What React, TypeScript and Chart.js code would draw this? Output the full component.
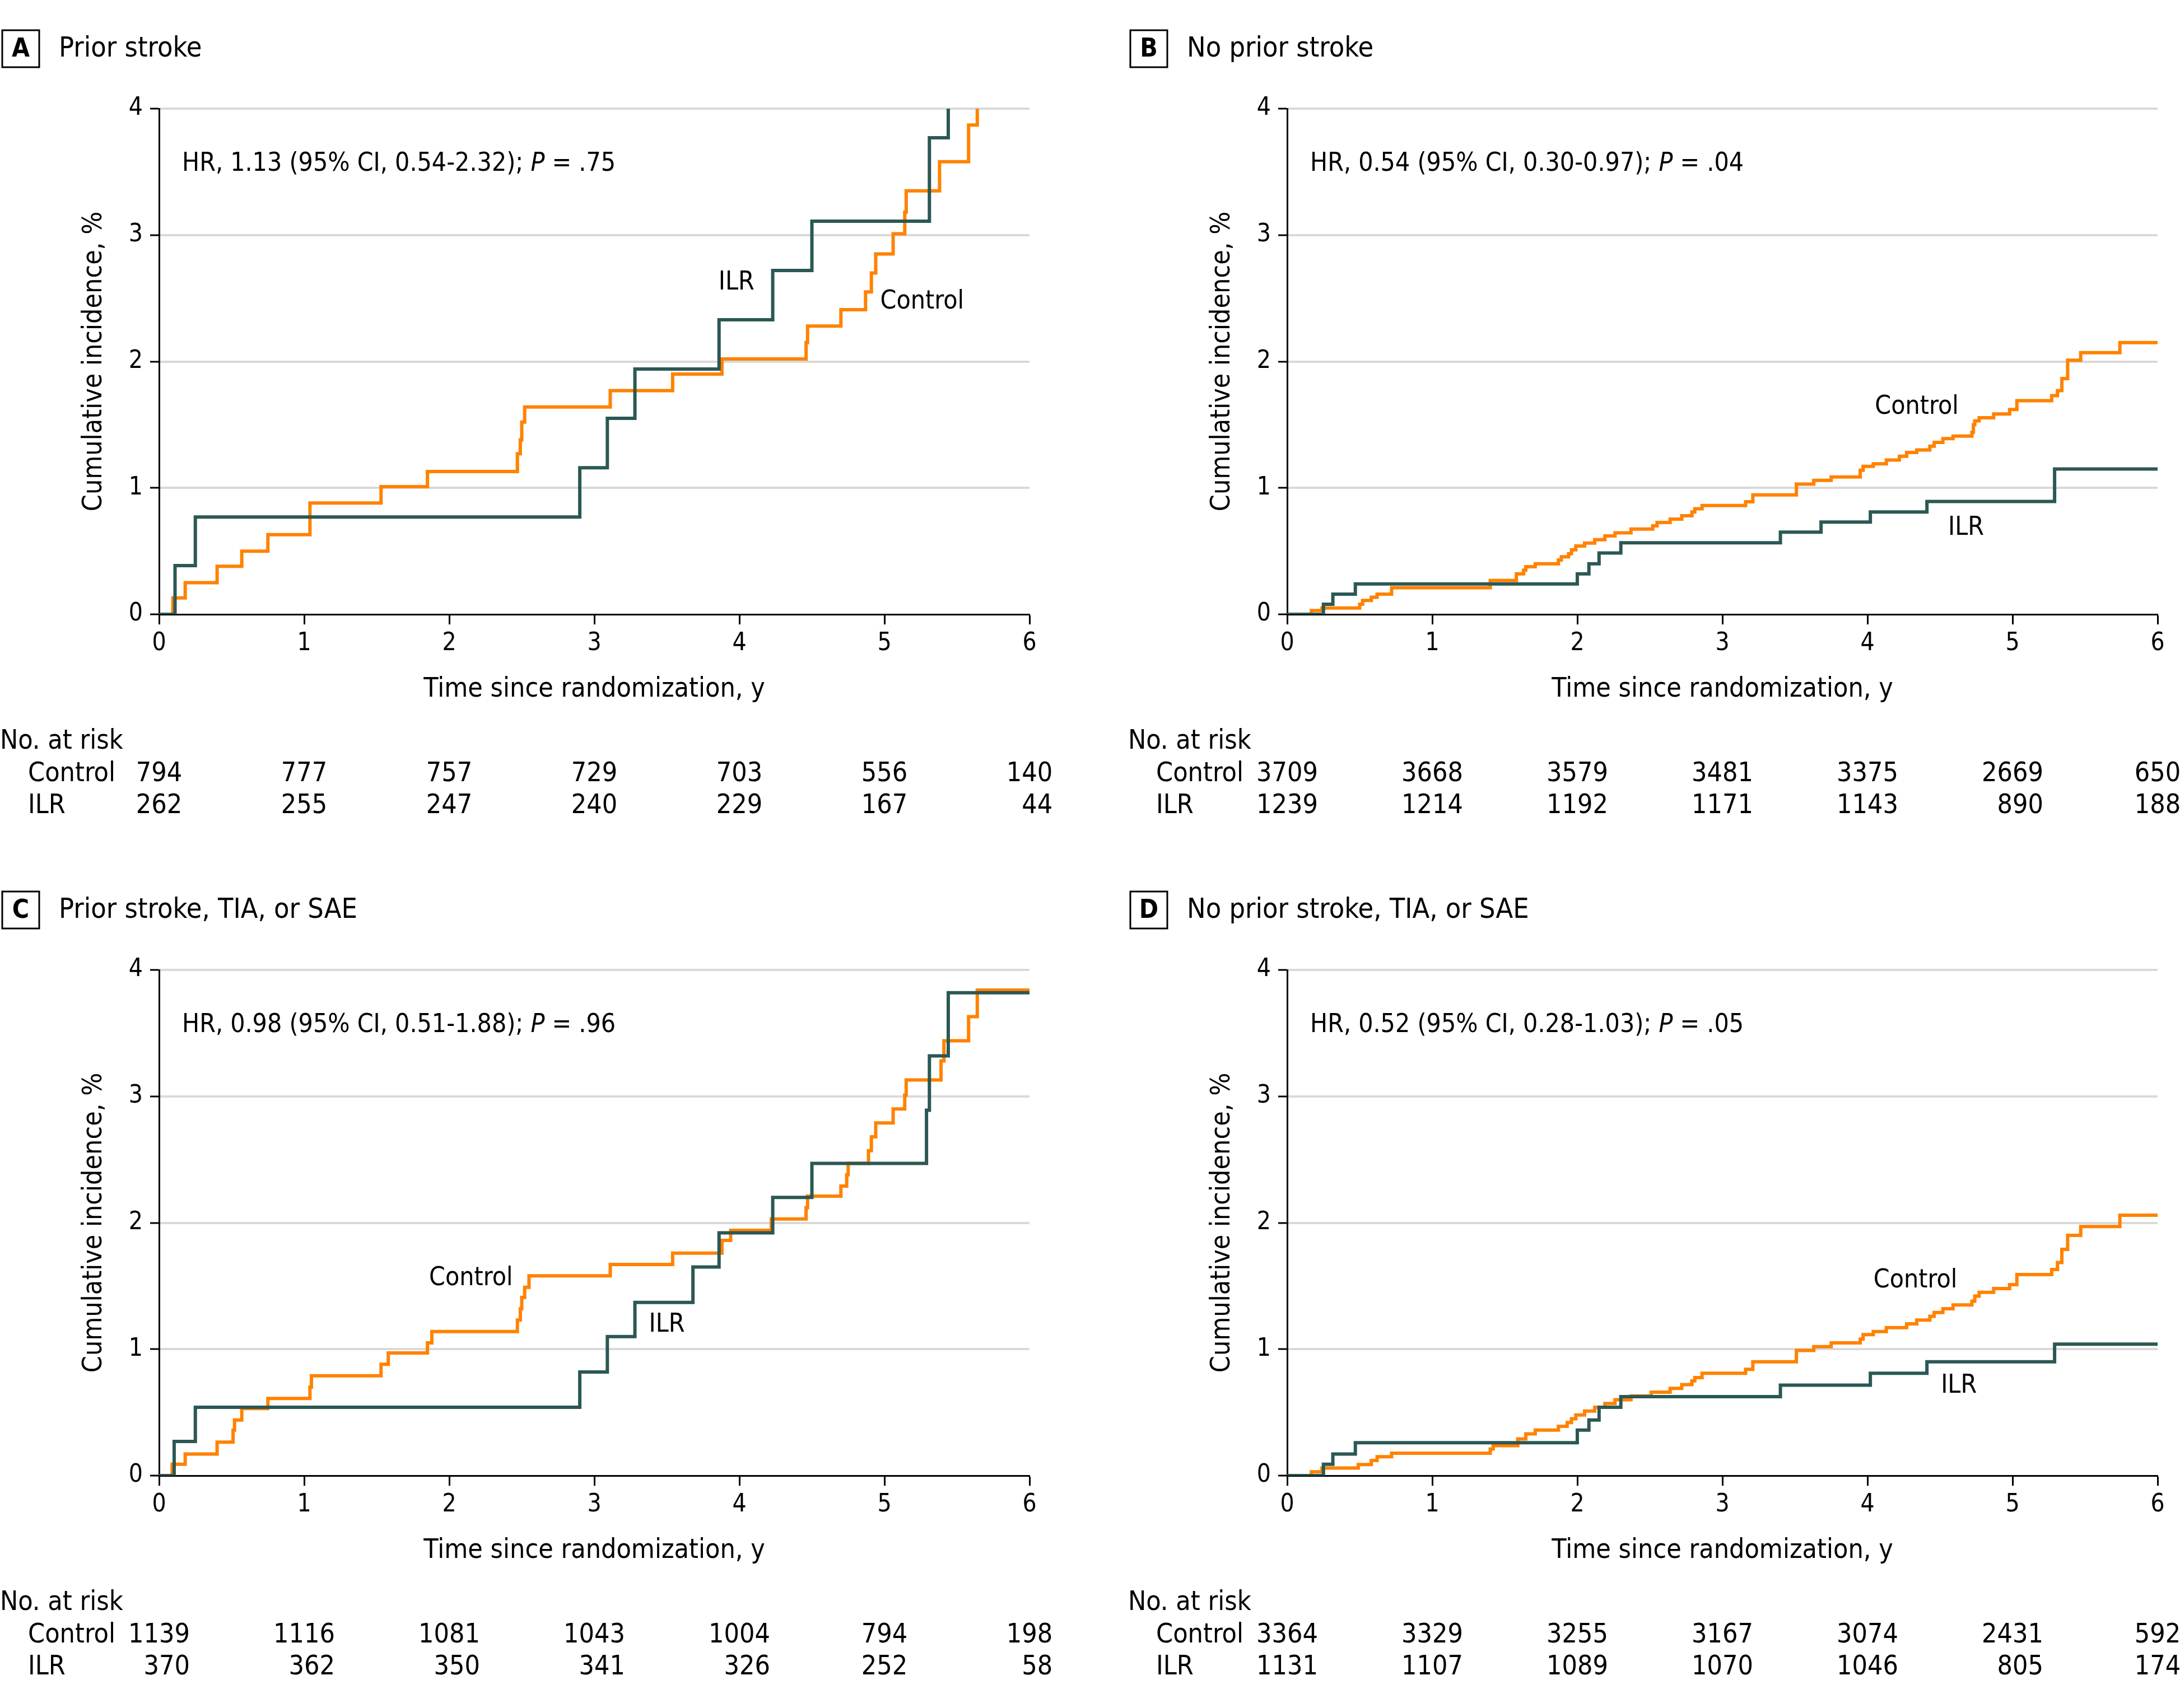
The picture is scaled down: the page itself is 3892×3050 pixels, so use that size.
import React, { useEffect, useRef } from "react";
import { Chart, registerables } from "chart.js";
Chart.register(...registerables);

const FONT = "'DejaVu Sans Condensed', 'Liberation Sans Narrow', 'DejaVu Sans', sans-serif";
const ORANGE = "#ff8200";
const TEAL = "#2b5854";
const GRID = "#d9d9d9";

const YEAR_TICKS = [0, 1, 2, 3, 4, 5, 6];
const PCT_TICKS = [0, 1, 2, 3, 4];

// ---------- Panel A: Prior stroke ----------
const A_ILR_T = [0, 0.11, 0.25, 2.9, 3.09, 3.28, 3.86, 4.23, 4.5, 5.31, 5.44];
const A_ILR_V = [0, 0.385, 0.77, 1.16, 1.55, 1.94, 2.33, 2.72, 3.11, 3.77, 4.0];
const A_CTRL_T = [0, 0.095, 0.18, 0.4, 0.57, 0.75, 1.04, 1.53, 1.85, 2.47, 2.49, 2.5, 2.52, 3.11, 3.54, 3.88, 4.46, 4.47, 4.7, 4.87, 4.91, 4.94, 5.06, 5.14, 5.15, 5.38, 5.58, 5.64];
const A_CTRL_V = [0, 0.13, 0.25, 0.38, 0.5, 0.63, 0.88, 1.01, 1.13, 1.27, 1.38, 1.52, 1.64, 1.77, 1.9, 2.02, 2.15, 2.28, 2.41, 2.55, 2.7, 2.85, 3.01, 3.18, 3.35, 3.58, 3.87, 4.0];
const A_RISK_CTRL = ["794", "777", "757", "729", "703", "556", "140"];
const A_RISK_ILR = ["262", "255", "247", "240", "229", "167", "44"];

// ---------- Panel B: No prior stroke ----------
const B_ILR_T = [0, 0.25, 0.315, 0.47, 2.0, 2.08, 2.15, 2.3, 3.4, 3.68, 4.02, 4.41, 5.29, 6];
const B_ILR_V = [0, 0.08, 0.16, 0.24, 0.32, 0.4, 0.485, 0.566, 0.65, 0.73, 0.81, 0.893, 1.15, 1.15];
const B_CTRL_T = [0, 0.167, 0.24, 0.5, 0.52, 0.58, 0.62, 0.72, 1.4, 1.58, 1.63, 1.645, 1.71, 1.87, 1.89, 1.94, 1.96, 1.99, 2.05, 2.12, 2.19, 2.26, 2.37, 2.52, 2.55, 2.64, 2.72, 2.79, 2.81, 2.86, 3.16, 3.21, 3.51, 3.63, 3.75, 3.95, 3.97, 4.04, 4.13, 4.22, 4.27, 4.34, 4.43, 4.46, 4.52, 4.59, 4.72, 4.73, 4.74, 4.77, 4.87, 4.98, 5.03, 5.27, 5.31, 5.34, 5.38, 5.47, 5.74, 6];
const B_CTRL_V = [0, 0.03, 0.05, 0.08, 0.11, 0.135, 0.16, 0.21, 0.268, 0.32, 0.35, 0.377, 0.4, 0.43, 0.455, 0.48, 0.51, 0.54, 0.564, 0.59, 0.62, 0.645, 0.674, 0.7, 0.727, 0.753, 0.78, 0.81, 0.835, 0.86, 0.89, 0.945, 1.03, 1.06, 1.086, 1.14, 1.17, 1.19, 1.22, 1.25, 1.28, 1.3, 1.33, 1.36, 1.39, 1.41, 1.44, 1.5, 1.53, 1.555, 1.585, 1.62, 1.69, 1.73, 1.77, 1.865, 2.01, 2.07, 2.15, 2.15];
const B_RISK_CTRL = ["3709", "3668", "3579", "3481", "3375", "2669", "650"];
const B_RISK_ILR = ["1239", "1214", "1192", "1171", "1143", "890", "188"];

// ---------- Panel C: Prior stroke, TIA, or SAE ----------
const C_ILR_T = [0, 0.104, 0.25, 2.9, 3.09, 3.28, 3.68, 3.86, 4.23, 4.5, 5.29, 5.31, 5.44, 6];
const C_ILR_V = [0, 0.27, 0.54, 0.82, 1.1, 1.37, 1.65, 1.92, 2.2, 2.47, 2.89, 3.32, 3.82, 3.82];
const C_CTRL_T = [0, 0.09, 0.18, 0.4, 0.51, 0.52, 0.57, 0.75, 1.04, 1.05, 1.53, 1.58, 1.85, 1.88, 2.47, 2.49, 2.5, 2.52, 2.55, 3.11, 3.54, 3.88, 3.94, 4.22, 4.46, 4.47, 4.7, 4.74, 4.75, 4.89, 4.91, 4.94, 5.06, 5.14, 5.15, 5.39, 5.41, 5.58, 5.64, 6];
const C_CTRL_V = [0, 0.09, 0.17, 0.265, 0.36, 0.44, 0.53, 0.61, 0.7, 0.79, 0.88, 0.97, 1.05, 1.14, 1.23, 1.32, 1.41, 1.49, 1.58, 1.67, 1.76, 1.86, 1.94, 2.03, 2.12, 2.21, 2.29, 2.38, 2.47, 2.57, 2.68, 2.79, 2.9, 3.01, 3.13, 3.28, 3.44, 3.63, 3.84, 3.84];
const C_RISK_CTRL = ["1139", "1116", "1081", "1043", "1004", "794", "198"];
const C_RISK_ILR = ["370", "362", "350", "341", "326", "252", "58"];

// ---------- Panel D: No prior stroke, TIA, or SAE ----------
const D_ILR_T = [0, 0.25, 0.315, 0.47, 2.0, 2.08, 2.15, 2.3, 3.4, 4.02, 4.41, 5.29, 6];
const D_ILR_V = [0, 0.09, 0.17, 0.26, 0.36, 0.44, 0.54, 0.625, 0.715, 0.81, 0.9, 1.04, 1.04];
const D_CTRL_T = [0, 0.167, 0.24, 0.49, 0.58, 0.62, 0.72, 1.4, 1.42, 1.59, 1.645, 1.71, 1.87, 1.93, 1.96, 1.99, 2.05, 2.12, 2.19, 2.26, 2.37, 2.51, 2.64, 2.72, 2.79, 2.81, 2.86, 3.16, 3.21, 3.51, 3.63, 3.75, 3.95, 3.97, 4.04, 4.13, 4.27, 4.34, 4.43, 4.46, 4.52, 4.59, 4.72, 4.74, 4.77, 4.87, 4.98, 5.03, 5.27, 5.31, 5.34, 5.38, 5.47, 5.74, 6];
const D_CTRL_V = [0, 0.03, 0.06, 0.087, 0.12, 0.15, 0.177, 0.21, 0.237, 0.29, 0.33, 0.36, 0.39, 0.42, 0.45, 0.48, 0.51, 0.54, 0.57, 0.6, 0.63, 0.66, 0.69, 0.72, 0.75, 0.775, 0.81, 0.84, 0.9, 0.99, 1.02, 1.05, 1.08, 1.115, 1.14, 1.17, 1.2, 1.23, 1.26, 1.29, 1.32, 1.35, 1.38, 1.42, 1.45, 1.48, 1.51, 1.59, 1.63, 1.685, 1.79, 1.9, 1.97, 2.06, 2.06];
const D_RISK_CTRL = ["3364", "3329", "3255", "3167", "3074", "2431", "592"];
const D_RISK_ILR = ["1131", "1107", "1089", "1070", "1046", "805", "174"];

type PanelCfg = {
  letter: string;
  title: string;
  hr: [string, string, string];
  left: number;
  top: number;
  ilrT: number[];
  ilrV: number[];
  ctrlT: number[];
  ctrlV: number[];
  riskCtrl: string[];
  riskIlr: string[];
  ilrLabel: [number, number];
  ctrlLabel: [number, number];
};

const PANELS: PanelCfg[] = [
  { letter: "A", title: "Prior stroke", hr: ["HR, 1.13 (95% CI, 0.54-2.32); ", "P", " = .75"], left: 0, top: 0,
    ilrT: A_ILR_T, ilrV: A_ILR_V, ctrlT: A_CTRL_T, ctrlV: A_CTRL_V, riskCtrl: A_RISK_CTRL, riskIlr: A_RISK_ILR,
    ilrLabel: [3.98, 2.62], ctrlLabel: [5.26, 2.47] },
  { letter: "B", title: "No prior stroke", hr: ["HR, 0.54 (95% CI, 0.30-0.97); ", "P", " = .04"], left: 2014, top: 0,
    ilrT: B_ILR_T, ilrV: B_ILR_V, ctrlT: B_CTRL_T, ctrlV: B_CTRL_V, riskCtrl: B_RISK_CTRL, riskIlr: B_RISK_ILR,
    ilrLabel: [4.68, 0.68], ctrlLabel: [4.34, 1.64] },
  { letter: "C", title: "Prior stroke, TIA, or SAE", hr: ["HR, 0.98 (95% CI, 0.51-1.88); ", "P", " = .96"], left: 0, top: 1538,
    ilrT: C_ILR_T, ilrV: C_ILR_V, ctrlT: C_CTRL_T, ctrlV: C_CTRL_V, riskCtrl: C_RISK_CTRL, riskIlr: C_RISK_ILR,
    ilrLabel: [3.5, 1.19], ctrlLabel: [2.15, 1.56] },
  { letter: "D", title: "No prior stroke, TIA, or SAE", hr: ["HR, 0.52 (95% CI, 0.28-1.03); ", "P", " = .05"], left: 2014, top: 1538,
    ilrT: D_ILR_T, ilrV: D_ILR_V, ctrlT: D_CTRL_T, ctrlV: D_CTRL_V, riskCtrl: D_RISK_CTRL, riskIlr: D_RISK_ILR,
    ilrLabel: [4.63, 0.71], ctrlLabel: [4.33, 1.54] },
];

const W = 1878;
const H = 1500;

function pts(t: number[], v: number[]) {
  return t.map((x, i) => ({ x, y: v[i] }));
}

function Panel({ cfg }: { cfg: PanelCfg }) {
  const ref = useRef<HTMLCanvasElement | null>(null);
  useEffect(() => {
    if (!ref.current) return;
    const extras = {
      id: "extras",
      afterDraw(chart: any) {
        const ctx = chart.ctx as CanvasRenderingContext2D;
        const area = chart.chartArea;
        const xs = chart.scales.x;
        const ys = chart.scales.y;
        ctx.save();
        ctx.fillStyle = "#000";
        ctx.strokeStyle = "#000";
        // header
        ctx.lineWidth = 3;
        ctx.strokeRect(4, 54, 66, 66);
        ctx.textBaseline = "middle";
        ctx.textAlign = "center";
        ctx.font = `bold 46px ${FONT}`;
        ctx.fillText(cfg.letter, 37, 89);
        ctx.textAlign = "left";
        ctx.font = `50px ${FONT}`;
        ctx.fillText(cfg.title, 105, 88);
        // HR text
        let hx = area.left + 41;
        const hy = area.top + 99;
        ctx.font = `46px ${FONT}`;
        ctx.fillText(cfg.hr[0], hx, hy);
        hx += ctx.measureText(cfg.hr[0]).width;
        ctx.font = `italic 46px ${FONT}`;
        ctx.fillText(cfg.hr[1], hx, hy);
        hx += ctx.measureText(cfg.hr[1]).width;
        ctx.font = `46px ${FONT}`;
        ctx.fillText(cfg.hr[2], hx, hy);
        // curve labels
        ctx.textAlign = "center";
        ctx.fillText("ILR", xs.getPixelForValue(cfg.ilrLabel[0]), ys.getPixelForValue(cfg.ilrLabel[1]));
        ctx.fillText("Control", xs.getPixelForValue(cfg.ctrlLabel[0]), ys.getPixelForValue(cfg.ctrlLabel[1]));
        // risk table
        ctx.font = `48px ${FONT}`;
        ctx.textAlign = "left";
        const r0 = area.bottom + 228;
        const r1 = area.bottom + 286;
        const r2 = area.bottom + 343;
        ctx.fillText("No. at risk", 0, r0);
        ctx.fillText("Control", 50, r1);
        ctx.fillText("ILR", 50, r2);
        ctx.textAlign = "right";
        YEAR_TICKS.forEach((yr, i) => {
          const colW = Math.max(ctx.measureText(cfg.riskCtrl[i]).width, ctx.measureText(cfg.riskIlr[i]).width);
          const px = xs.getPixelForValue(yr) + colW / 2;
          ctx.fillText(cfg.riskCtrl[i], px, r1);
          ctx.fillText(cfg.riskIlr[i], px, r2);
        });
        ctx.restore();
      },
    };
    const chart = new Chart(ref.current, {
      type: "line",
      data: {
        datasets: [
          { label: "ILR", data: pts(cfg.ilrT, cfg.ilrV), borderColor: TEAL, backgroundColor: TEAL, borderWidth: 6,
            stepped: true, pointRadius: 0, fill: false, tension: 0 } as any,
          { label: "Control", data: pts(cfg.ctrlT, cfg.ctrlV), borderColor: ORANGE, backgroundColor: ORANGE, borderWidth: 6,
            stepped: true, pointRadius: 0, fill: false, tension: 0 } as any,
        ],
      },
      options: {
        animation: false,
        responsive: true,
        maintainAspectRatio: false,
        events: [],
        layout: { padding: { left: 0, top: 194, right: 40, bottom: 240 } },
        plugins: { legend: { display: false }, tooltip: { enabled: false }, title: { display: false } },
        scales: {
          x: {
            type: "linear",
            min: 0,
            max: 6,
            afterBuildTicks: (s: any) => { s.ticks = YEAR_TICKS.map((v) => ({ value: v })); },
            afterFit: (s: any) => { s.height = 163; },
            ticks: { font: { family: FONT, size: 44 }, color: "#000", padding: 8, maxRotation: 0, autoSkip: false },
            grid: { drawOnChartArea: false, drawTicks: true, tickLength: 18, tickWidth: 3, tickColor: "#000" },
            border: { display: true, color: "#000", width: 3 },
            title: { display: true, text: "Time since randomization, y", font: { family: FONT, size: 48 }, color: "#000", padding: 0 },
          },
          y: {
            type: "linear",
            min: 0,
            max: 4,
            afterBuildTicks: (s: any) => { s.ticks = PCT_TICKS.map((v) => ({ value: v })); },
            afterFit: (s: any) => { s.width = 284; },
            ticks: { font: { family: FONT, size: 44 }, color: "#000", padding: 13 },
            grid: {
              color: (c: any) => (c.tick && c.tick.value === 0 ? "rgba(0,0,0,0)" : GRID),
              lineWidth: 4,
              drawTicks: true,
              tickLength: 16,
              tickWidth: 3,
              tickColor: "#000",
            },
            border: { display: true, color: "#000", width: 3 },
            title: { display: true, text: "Cumulative incidence, %", font: { family: FONT, size: 48 }, color: "#000", padding: { top: 140, bottom: 0 } },
          },
        },
      } as any,
      plugins: [extras],
    });
    return () => chart.destroy();
  }, [cfg]);
  return (
    <div style={{ position: "absolute", left: cfg.left, top: cfg.top, width: W, height: H }}>
      <canvas ref={ref} />
    </div>
  );
}

export default function App() {
  return (
    <div style={{ position: "absolute", left: 0, top: 0, width: 3892, height: 3050, background: "#fff", overflow: "hidden" }}>
      {PANELS.map((p) => (
        <Panel key={p.letter} cfg={p} />
      ))}
    </div>
  );
}
